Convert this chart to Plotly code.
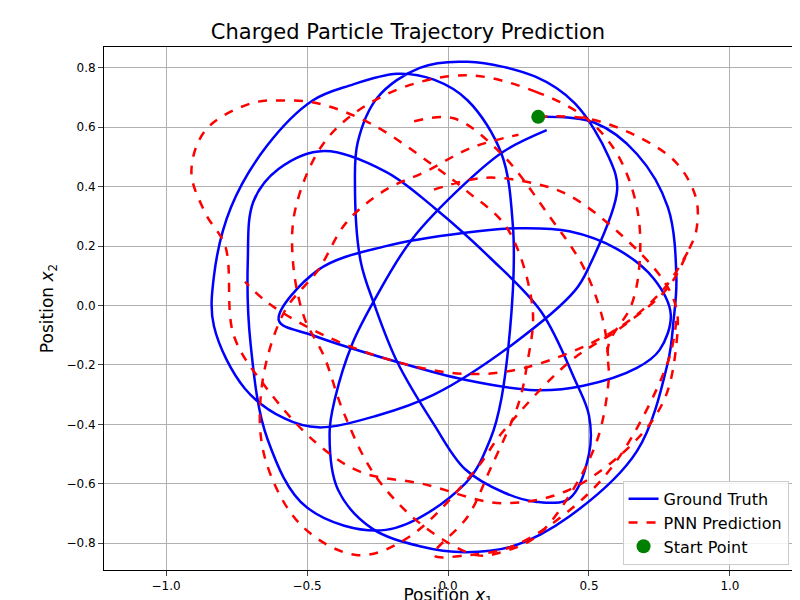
import plotly.graph_objects as go

# Ground truth trajectory, traced loop by loop (None = break between traced pieces)
gt_x = [0.32, 0.52, 0.67, 0.78, 0.81, 0.80, 0.78, 0.67, 0.43, 0.23, 0.06, -0.10, -0.27, -0.39, -0.42, -0.40, -0.34, -0.26, -0.13, 0.06, 0.20, 0.35,
        None,
        -0.60, -0.46, -0.22, 0.06, 0.25, 0.43, 0.60, 0.73, 0.79, 0.75, 0.67, 0.48, 0.31, 0.06, -0.18, -0.48, -0.60,
        None,
        0.60, 0.57, 0.45, 0.31, 0.07, -0.10, -0.25, -0.32, -0.33, -0.31, -0.26, -0.18, -0.05, 0.06, 0.20, 0.31, 0.43, 0.50, 0.50, 0.45, 0.33, 0.15, -0.05, -0.22, -0.44, -0.60, -0.69, -0.71, -0.70, -0.64, -0.50, -0.22, 0.06, 0.15, 0.19, 0.23, 0.23, 0.19, 0.07, -0.05, -0.18, -0.35, -0.48, -0.64, -0.77, -0.83, -0.83, -0.72, -0.58, -0.46, -0.25, -0.05, 0.23, 0.45, 0.50, 0.60]
gt_y = [0.635, 0.615, 0.51, 0.33, 0.09, -0.05, -0.19, -0.49, -0.71, -0.81, -0.83, -0.81, -0.75, -0.62, -0.43, -0.31, -0.13, 0.02, 0.22, 0.41, 0.52, 0.59,
        None,
        -0.05, 0.12, 0.20, 0.245, 0.26, 0.25, 0.19, 0.09, -0.03, -0.15, -0.21, -0.27, -0.285, -0.25, -0.19, -0.10, -0.05,
        None,
        0.39, 0.50, 0.68, 0.77, 0.82, 0.80, 0.70, 0.55, 0.41, 0.15, 0.00, -0.19, -0.40, -0.55, -0.63, -0.66, -0.65, -0.50, -0.37, -0.25, -0.02, 0.16, 0.33, 0.45, 0.52, 0.46, 0.35, 0.15, -0.13, -0.45, -0.68, -0.755, -0.60, -0.45, -0.31, 0.05, 0.27, 0.51, 0.69, 0.76, 0.78, 0.74, 0.69, 0.54, 0.33, 0.10, -0.07, -0.28, -0.38, -0.41, -0.37, -0.30, -0.13, 0.05, 0.13, 0.39]

# PNN prediction, traced the same way
pnn_x = [0.32, 0.49, 0.67, 0.81, 0.88, 0.88, 0.85, 0.78, 0.62, 0.43, 0.19, 0.10, -0.14, -0.32, -0.52, -0.65, -0.66, -0.58, -0.46, -0.36, -0.22, -0.08, 0.08, 0.25,
         None,
         0.06, 0.31, 0.49, 0.60, 0.67, 0.68, 0.65, 0.57, 0.57, 0.53, 0.43, 0.31, 0.19, 0.10, -0.09, -0.26, -0.37, -0.44, -0.51, -0.55, -0.54, -0.43, -0.22, 0.06,
         None,
         -0.05, 0.13, 0.31, 0.43, 0.60, 0.76, 0.81, 0.81, 0.77, 0.67, 0.43, 0.19, -0.09, -0.31, -0.47, -0.65, -0.76, -0.79, -0.86, -0.91, -0.86, -0.70, -0.58, -0.46, -0.27, -0.05, 0.06, 0.21, 0.30, 0.28, 0.25, 0.15, 0.07, -0.05, 0.07, 0.23, 0.43, 0.60, 0.78, 0.81,
         None,
         0.85, 0.76, 0.58, 0.27, 0.06, -0.18, -0.44, -0.64, -0.72,
         None,
         -0.12, 0.02, 0.19, 0.36, 0.48, 0.55, 0.57]
pnn_y = [0.635, 0.63, 0.57, 0.48, 0.36, 0.25, 0.18, 0.06, -0.07, -0.19, -0.43, -0.55, -0.78, -0.84, -0.74, -0.51, -0.27, -0.02, 0.12, 0.28, 0.39, 0.45, 0.53, 0.575,
         None,
         0.775, 0.72, 0.63, 0.51, 0.33, 0.15, 0.00, -0.13, -0.25, -0.45, -0.64, -0.78, -0.83, -0.84, -0.74, -0.57, -0.36, -0.17, -0.04, 0.15, 0.33, 0.56, 0.71, 0.775,
         None,
         0.39, 0.43, 0.41, 0.37, 0.25, 0.09, -0.01, -0.13, -0.31, -0.45, -0.62, -0.665, -0.60, -0.56, -0.46, -0.27, -0.10, 0.20, 0.31, 0.45, 0.59, 0.68, 0.69, 0.68, 0.61, 0.47, 0.39, 0.26, -0.01, -0.20, -0.33, -0.55, -0.71, -0.84, -0.84, -0.81, -0.69, -0.52, -0.19, -0.05,
         None,
         0.18, 0.05, -0.09, -0.21, -0.23, -0.19, -0.10, 0.01, 0.08,
         None,
         0.62, 0.63, 0.51, 0.30, 0.13, -0.05, -0.20]

start_x = [0.32]
start_y = [0.635]

fig = go.Figure()
fig.add_trace(go.Scatter(x=gt_x, y=gt_y, mode='lines', name='Ground Truth',
                         line=dict(color='blue', width=2.5, shape='spline', smoothing=1.0)))
fig.add_trace(go.Scatter(x=pnn_x, y=pnn_y, mode='lines', name='PNN Prediction',
                         line=dict(color='red', width=2.5, dash='dash', shape='spline', smoothing=1.0)))
fig.add_trace(go.Scatter(x=start_x, y=start_y, mode='markers', name='Start Point',
                         marker=dict(color='green', size=14)))

axis = dict(showline=True, linecolor='black', mirror=True, ticks='outside',
            showgrid=True, gridcolor='#b0b0b0', zeroline=False, automargin=False,
            tickfont=dict(size=12, color='black'))

fig.update_layout(
    title=dict(text='Charged Particle Trajectory Prediction', x=0.5, xanchor='center',
               yref='container', y=0.96, yanchor='middle',
               font=dict(size=21, color='black')),
    font=dict(family='DejaVu Sans', color='black'),
    xaxis=dict(axis, range=[-1.22, 1.22], dtick=0.5, tickformat='.1f',
               title=dict(text='Position <i>x</i><sub>1</sub>', font=dict(size=17), standoff=8)),
    yaxis=dict(axis, range=[-0.89, 0.87], dtick=0.2, tickformat='.1f',
               title=dict(text='Position <i>x</i><sub>2</sub>', font=dict(size=17), standoff=8)),
    legend=dict(x=0.995, y=0.01, xanchor='right', yanchor='bottom',
                bordercolor='#cccccc', borderwidth=1, bgcolor='rgba(255,255,255,0.85)',
                font=dict(size=16)),
    plot_bgcolor='white',
    width=800, height=600,
    margin=dict(l=96, r=16, t=39, b=38)
)

fig.write_html("out.html")
